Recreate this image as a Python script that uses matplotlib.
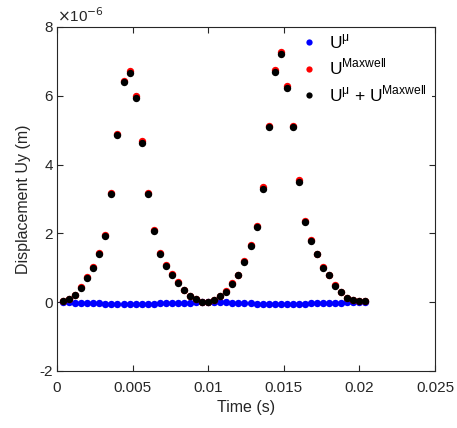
import matplotlib
matplotlib.use('Agg')
import matplotlib.pyplot as plt

# time samples (s)
time = [0.0004, 0.0008, 0.0012, 0.0016, 0.0020, 0.0024, 0.0028, 0.0032, 0.0036, 0.0040,
        0.0044, 0.0048, 0.0052, 0.0056, 0.0060, 0.0064, 0.0068, 0.0072, 0.0076, 0.0080,
        0.0084, 0.0088, 0.0092, 0.0096, 0.0100, 0.0104, 0.0108, 0.0112, 0.0116, 0.0120,
        0.0124, 0.0128, 0.0132, 0.0136, 0.0140, 0.0144, 0.0148, 0.0152, 0.0156, 0.0160,
        0.0164, 0.0168, 0.0172, 0.0176, 0.0180, 0.0184, 0.0188, 0.0192, 0.0196, 0.0200,
        0.0204]

# displacements in units of 1e-6 m
u_mu = [0.00, -0.005, -0.01, -0.015, -0.02, -0.03, -0.035, -0.04, -0.045, -0.05,
        -0.055, -0.06, -0.055, -0.05, -0.045, -0.04, -0.035, -0.03, -0.025, -0.02,
        -0.015, -0.01, -0.005, 0.00, 0.005, 0.005, 0.00, -0.005, -0.01, -0.015,
        -0.02, -0.03, -0.04, -0.05, -0.055, -0.06, -0.065, -0.06, -0.055, -0.05,
        -0.04, -0.035, -0.03, -0.025, -0.02, -0.015, -0.01, -0.005, 0.00, 0.00,
        0.00]

u_total = [0.04, 0.10, 0.21, 0.42, 0.71, 0.99, 1.40, 1.93, 3.15, 4.85,
           6.39, 6.67, 5.95, 4.64, 3.15, 2.06, 1.41, 1.06, 0.79, 0.56,
           0.35, 0.17, 0.08, 0.02, 0.02, 0.06, 0.17, 0.31, 0.54, 0.79,
           1.18, 1.64, 2.18, 3.30, 5.08, 6.70, 7.21, 6.24, 5.08, 3.50,
           2.34, 1.78, 1.39, 0.99, 0.79, 0.48, 0.29, 0.13, 0.06, 0.04,
           0.04]

u_maxwell = [0.04, 0.105, 0.22, 0.43, 0.725, 1.015, 1.43, 1.96, 3.185, 4.89,
             6.435, 6.72, 5.995, 4.68, 3.185, 2.095, 1.44, 1.085, 0.81, 0.575,
             0.36, 0.18, 0.085, 0.02, 0.015, 0.055, 0.17, 0.315, 0.55, 0.80,
             1.195, 1.665, 2.215, 3.34, 5.125, 6.75, 7.26, 6.29, 5.125, 3.54,
             2.375, 1.81, 1.415, 1.01, 0.805, 0.49, 0.30, 0.135, 0.06, 0.04,
             0.04]

plt.rcParams['font.family'] = ['Liberation Sans', 'DejaVu Sans']

fig = plt.figure(figsize=(4.57, 4.28), dpi=100)
ax = fig.add_axes([57 / 457, 1 - 371 / 428, 378 / 457, 344 / 428])

ms = 5.3
ax.plot(time, [v * 1e-6 for v in u_mu], 'o', color='#0000ff', ms=ms, mec='none',
        label=r'U$^{\mathregular{μ}}$')
ax.plot(time, [v * 1e-6 for v in u_maxwell], 'o', color='#ff0000', ms=ms, mec='none',
        label=r'U$^{\mathregular{Maxwell}}$')
ax.plot(time, [v * 1e-6 for v in u_total], 'o', color='black', ms=ms, mec='none',
        label=r'U$^{\mathregular{μ}}$ + U$^{\mathregular{Maxwell}}$')

ax.set_xlim(0, 0.025)
ax.set_ylim(-2e-6, 8e-6)
ax.set_xticks([0, 0.005, 0.01, 0.015, 0.02, 0.025])
ax.set_xticklabels(['0', '0.005', '0.01', '0.015', '0.02', '0.025'])
ax.set_yticks([-2e-6, 0, 2e-6, 4e-6, 6e-6, 8e-6])
ax.set_yticklabels(['-2', '0', '2', '4', '6', '8'])
ax.tick_params(direction='in', top=True, right=True, length=4, width=0.8,
               labelsize=11, colors='#262626', pad=3)
ax.tick_params(axis='x', pad=7)
for s in ax.spines.values():
    s.set_color('#262626')
    s.set_linewidth(0.8)
ax.spines['top'].set_zorder(10)

ax.set_xlabel('Time (s)', fontsize=11.5, color='#262626', labelpad=4)
ax.set_ylabel('Displacement Uy (m)', fontsize=11.5, color='#262626', labelpad=6)
ax.text(0, 1.005, r'$\times$10$^{-6}$', transform=ax.transAxes, fontsize=11,
        color='#262626', ha='left', va='bottom')

leg = ax.legend(loc='upper left', bbox_to_anchor=(0.627, 1.0), frameon=True, fontsize=12.5,
                handletextpad=0.55, handlelength=1.15, labelspacing=0.35, markerscale=0.85,
                borderaxespad=0.0, borderpad=0.3)
leg.get_frame().set_edgecolor('none')
leg.get_frame().set_facecolor('white')
leg.get_frame().set_alpha(1.0)

fig.savefig('out.png', dpi=100)
